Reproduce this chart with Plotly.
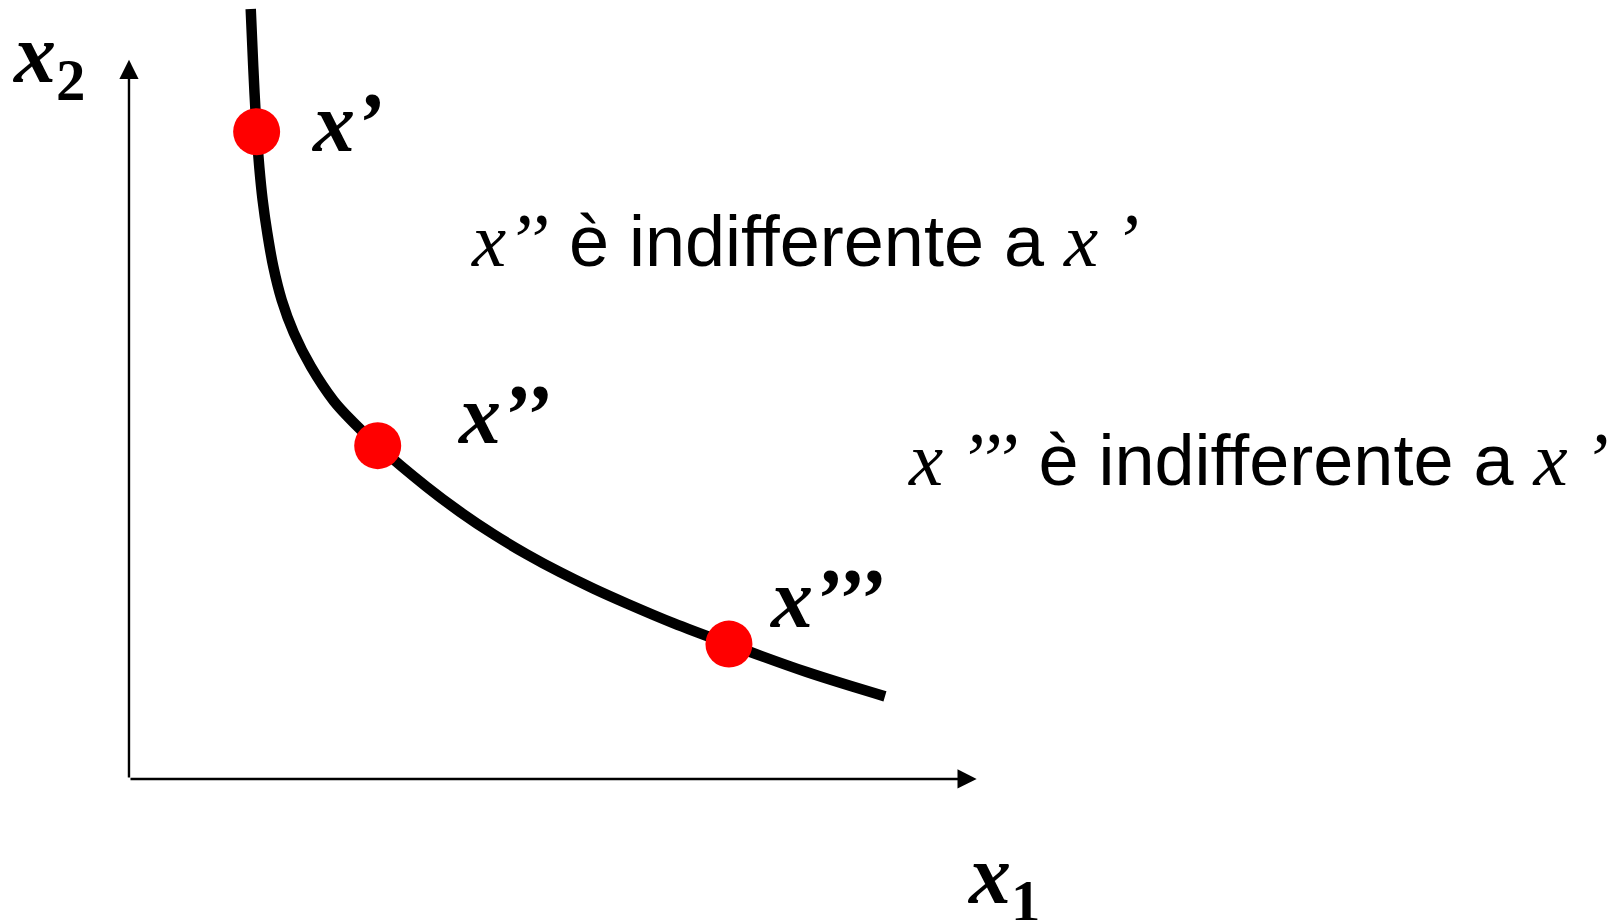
import plotly.graph_objects as go

# Indifference curve (x1, x2)
curve_x1 = [1.439, 1.469, 1.509, 1.540, 1.580, 1.635, 1.706, 1.805, 1.949, 2.151,
            2.421, 2.660, 2.940, 3.519, 3.913, 4.306, 4.701, 5.095, 5.488, 5.883,
            6.434, 7.092, 8.011, 8.936]
curve_x2 = [10.739, 9.934, 9.028, 8.540, 8.075, 7.615, 7.145, 6.681, 6.220, 5.750,
            5.272, 4.965, 4.649, 4.074, 3.725, 3.414, 3.135, 2.884, 2.657, 2.448,
            2.174, 1.881, 1.491, 1.152]

# Bundles on the curve
point_x1 = [1.509, 2.940, 7.092]
point_x2 = [9.028, 4.649, 1.881]
point_labels = ["x’", "x’’", "x’’’"]
label_x1 = [2.577, 4.43, 8.24]
label_x2 = [9.16, 5.08, 2.52]

# Statements
statements = [
    ("x", "’’", " è indifferente a ", "x", "\u2009’"),
    ("x", "\u2009’’’", " è indifferente a ", "x", "\u2009’"),
]
statement_x1 = [7.99, 13.35]
statement_x2 = [7.52, 4.46]

# Axes
axis_len_x1 = 10.02
axis_len_x2 = 10.03
axis_titles = ["x<sub>1</sub>", "x<sub>2</sub>"]
axis_title_x1 = [10.34, -0.946]
axis_title_x2 = [-1.42, 10.03]

SERIF = "Liberation Serif, Times New Roman, serif"
SANS = "Liberation Sans, Arial, sans-serif"

fig = go.Figure()
fig.add_trace(go.Scatter(x=curve_x1, y=curve_x2, mode="lines",
                         line=dict(color="black", width=10.5, shape="spline", smoothing=1.0),
                         hoverinfo="skip", showlegend=False))
fig.add_trace(go.Scatter(x=point_x1, y=point_x2, mode="markers",
                         marker=dict(color="#ff0000", size=47, line=dict(width=0)),
                         hoverinfo="skip", showlegend=False))

ann = []
# axis arrows
ann.append(dict(x=axis_len_x1, y=0, ax=0, ay=0, xref="x", yref="y", axref="x", ayref="y",
                showarrow=True, arrowhead=2, arrowsize=1.6, arrowwidth=2.4, arrowcolor="black",
                standoff=0, startstandoff=0, text=""))
ann.append(dict(x=0, y=axis_len_x2, ax=0, ay=0, xref="x", yref="y", axref="x", ayref="y",
                showarrow=True, arrowhead=2, arrowsize=1.6, arrowwidth=2.4, arrowcolor="black",
                standoff=0, startstandoff=0, text=""))

# axis titles
for tx, ty, t in zip(axis_title_x1, axis_title_x2, axis_titles):
    ann.append(dict(x=tx, y=ty, xref="x", yref="y", showarrow=False,
                    text="<b><i>" + t.replace("<sub>", "</i><sub>") + "</b>",
                    font=dict(family=SERIF, size=84, color="black")))

# point labels
for lx, ly, t in zip(label_x1, label_x2, point_labels):
    ann.append(dict(x=lx, y=ly, xref="x", yref="y", showarrow=False,
                    text="<b><i>" + t + "</i></b>",
                    font=dict(family=SERIF, size=84, color="black")))

# statements
for sx, sy, parts in zip(statement_x1, statement_x2, statements):
    a, b, c, d, e = parts
    sty = f"font-family:{SERIF};font-size:77px"
    txt = (f"<span style='{sty}'><i>{a}{b}</i></span>"
           f"{c}"
           f"<span style='{sty}'><i>{d}{e}</i></span>")
    ann.append(dict(x=sx, y=sy, xref="x", yref="y", showarrow=False, text=txt,
                    font=dict(family=SANS, size=72, color="black")))

# page body has an 8px margin: figure is sized to fill the rest of the window
fig.update_layout(
    width=1609, height=912,
    margin=dict(l=0, r=0, t=0, b=0),
    paper_bgcolor="white", plot_bgcolor="white",
    xaxis=dict(range=[-1.430, 17.589], visible=False, fixedrange=True),
    yaxis=dict(range=[-1.967, 10.753], visible=False, fixedrange=True),
    annotations=ann,
    showlegend=False,
)

fig.write_html("out.html")
